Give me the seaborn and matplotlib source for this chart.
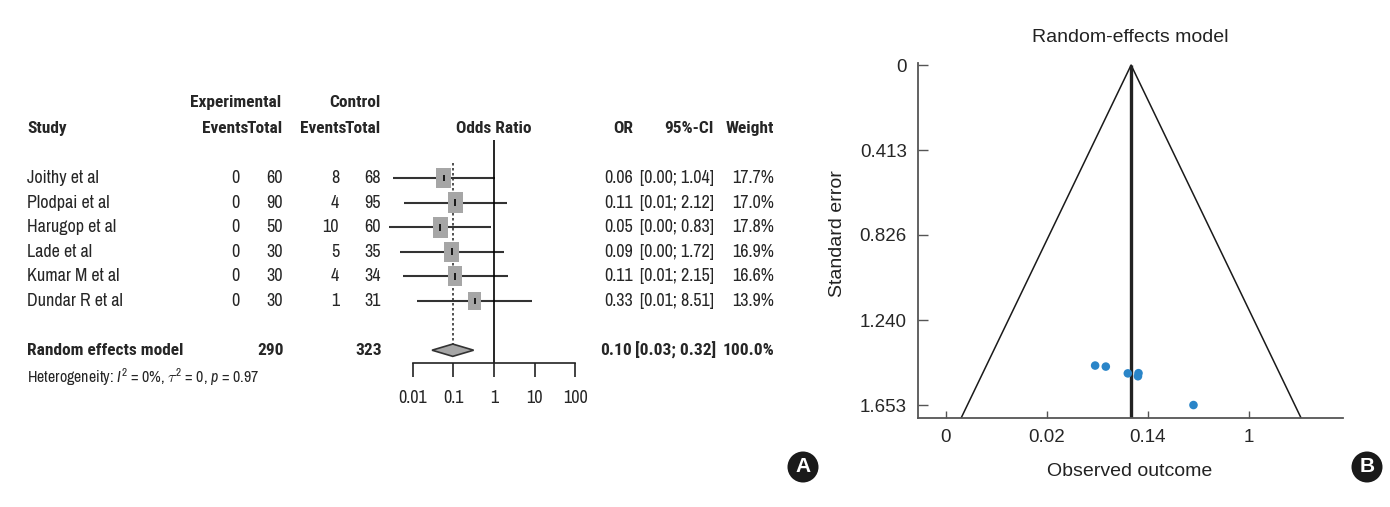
import numpy as np
import pandas as pd
import matplotlib
matplotlib.use("Agg")
import matplotlib.pyplot as plt
import seaborn as sns
from matplotlib.patches import Rectangle, Polygon, Ellipse
from matplotlib.transforms import blended_transform_factory

# Data
studies = ["Joithy et al", "Plodpai et al", "Harugop et al", "Lade et al", "Kumar M et al", "Dundar R et al"]
exp_events = [0, 0, 0, 0, 0, 0]
exp_total = [60, 90, 50, 30, 30, 30]
ctrl_events = [8, 4, 10, 5, 4, 1]
ctrl_total = [68, 95, 60, 35, 34, 31]
odds_ratio = [0.0588, 0.1123, 0.0476, 0.0909, 0.1111, 0.3333]
ci_lower = [0.0033, 0.0060, 0.0027, 0.0048, 0.0057, 0.0131]
ci_upper = [1.04, 2.12, 0.83, 1.72, 2.15, 8.51]
weights = [17.7, 17.0, 17.8, 16.9, 16.6, 13.9]
pooled_or = 0.097
pooled_ci = (0.030, 0.316)
pooled_weight = 100.0
pooled_exp_total = 290
pooled_ctrl_total = 323
or_ticks = [0.01, 0.1, 1, 10, 100]
or_tick_labels = ["0.01", "0.1", "1", "10", "100"]

std_error = [1.466, 1.498, 1.461, 1.499, 1.513, 1.653]
se_ticks = [0, 0.413, 0.826, 1.240, 1.653]
se_tick_labels = ["0", "0.413", "0.826", "1.240", "1.653"]
outcome_ticks = [-6, -4, -2, 0]
outcome_tick_labels = ["0", "0.02", "0.14", "1"]

sns.set_theme(style="ticks")
plt.rcParams["font.family"] = ["Liberation Sans", "DejaVu Sans"]
plt.rcParams["mathtext.fontset"] = "custom"
plt.rcParams["mathtext.it"] = "Archivo Narrow:italic"
plt.rcParams["mathtext.rm"] = "Archivo Narrow"
FOREST_FONT = ["Archivo Narrow", "Liberation Sans"]
BOLD_FONT = ["Roboto Condensed", "Fira Sans Condensed", "Liberation Sans"]
FS = 13
FSB = 12.5

W, H = 1390, 507
fig = plt.figure(figsize=(W / 100, H / 100), dpi=100)
fig.patch.set_facecolor("white")


def fx(px):
    return px / W


def fy(py):
    return 1 - py / H


def row(py):
    return (py - 178) / 24.6


# ---------------- Panel A: forest plot ----------------
axf = fig.add_axes([fx(380), fy(420), (600 - 380) / W, (420 - 90) / H])
axf.set_xscale("log")
axf.set_xlim(10 ** ((380 - 494) / 40.7), 10 ** ((600 - 494) / 40.7))
axf.set_ylim(row(420), row(90))
axf.patch.set_alpha(0)
for s in ["top", "left", "right"]:
    axf.spines[s].set_visible(False)
axf.spines["bottom"].set_position(("data", 7.5))
axf.spines["bottom"].set_bounds(0.01, 100)
axf.spines["bottom"].set_color("#222222")
axf.spines["bottom"].set_linewidth(1.2)
axf.set_xticks(or_ticks)
axf.set_xticklabels(or_tick_labels, family=FOREST_FONT, fontsize=FS)
axf.xaxis.set_minor_locator(matplotlib.ticker.NullLocator())
axf.tick_params(axis="x", direction="out", length=10, width=1.2, color="#222222", pad=10)
axf.set_yticks([])

rows = np.arange(len(studies))
w = np.sqrt(weights)
axf.hlines(rows, ci_lower, ci_upper, color="#333333", lw=1.5, zorder=2)
for r, o, wi in zip(rows, odds_ratio, w):
    hw = 0.0437 * wi
    hh = 0.1 * wi
    axf.add_patch(Rectangle((o / 10 ** hw, r - hh), o * 10 ** hw - o / 10 ** hw, 2 * hh,
                            facecolor="#a6a6a6", edgecolor="none", zorder=3))
axf.vlines(odds_ratio, rows - 0.14, rows + 0.14, color="black", lw=1.2, zorder=4)
axf.vlines(1, -1.55, 7.5, color="black", lw=1.2)
axf.vlines(pooled_or, -0.6, 6.75, color="#333333", lw=1.2, linestyles=(0, (1.5, 1.5)))
axf.add_patch(Polygon([(pooled_ci[0], 7), (pooled_or, 6.75), (pooled_ci[1], 7), (pooled_or, 7.25)],
                      closed=True, facecolor="#a6a6a6", edgecolor="#333333", lw=1.2, zorder=3))

tr = blended_transform_factory(fig.transFigure, axf.transData)
bold = dict(transform=tr, va="center", family=BOLD_FONT, fontsize=FSB, fontweight="bold")
norm = dict(transform=tr, va="center", family=FOREST_FONT, fontsize=FS)

axf.text(fx(281), -3.05, "Experimental", ha="right", **bold)
axf.text(fx(381), -3.05, "Control", ha="right", **bold)
axf.text(fx(27), -2, "Study", ha="left", **bold)
axf.text(fx(248), -2, "Events", ha="right", **bold)
axf.text(fx(283), -2, "Total", ha="right", **bold)
axf.text(fx(346), -2, "Events", ha="right", **bold)
axf.text(fx(381), -2, "Total", ha="right", **bold)
axf.text(1, -2, "Odds Ratio", ha="center", transform=axf.transData, va="center",
         family=BOLD_FONT, fontsize=FSB, fontweight="bold")
axf.text(fx(633), -2, "OR", ha="right", **bold)
axf.text(fx(714), -2, "95%-CI", ha="right", **bold)
axf.text(fx(774), -2, "Weight", ha="right", **bold)

for r in rows:
    axf.text(fx(27), r, studies[r], ha="left", **norm)
    axf.text(fx(239), r, f"{exp_events[r]}", ha="right", **norm)
    axf.text(fx(283), r, f"{exp_total[r]}", ha="right", **norm)
    axf.text(fx(339), r, f"{ctrl_events[r]}", ha="right", **norm)
    axf.text(fx(381), r, f"{ctrl_total[r]}", ha="right", **norm)
    axf.text(fx(633), r, f"{odds_ratio[r]:.2f}", ha="right", **norm)
    axf.text(fx(714), r, f"[{ci_lower[r]:.2f}; {ci_upper[r]:.2f}]", ha="right", **norm)
    axf.text(fx(774), r, f"{weights[r]:.1f}%", ha="right", **norm)

axf.text(fx(27), 7, "Random effects model", ha="left", **bold)
axf.text(fx(284), 7, f"{pooled_exp_total}", ha="right", **bold)
axf.text(fx(382), 7, f"{pooled_ctrl_total}", ha="right", **bold)
axf.text(fx(632), 7, f"{pooled_or:.2f}", ha="right", **bold)
axf.text(fx(716), 7, f"[{pooled_ci[0]:.2f}; {pooled_ci[1]:.2f}]", ha="right", **bold)
axf.text(fx(774), 7, f"{pooled_weight:.1f}%", ha="right", **bold)
axf.text(fx(27), 8.1, r"Heterogeneity: $I^2$ = 0%, $\tau^2$ = 0, $p$ = 0.97", ha="left",
         transform=tr, va="center", family=FOREST_FONT, fontsize=FS - 1.5)

# ---------------- Panel B: funnel plot ----------------
axp = fig.add_axes([fx(918), fy(418), (1343 - 918) / W, (418 - 63) / H])
se_max = 1.716
axp.set_xlim(-6.55, 1.86)
axp.set_ylim(se_max, -0.01)
mu = np.log(pooled_or)
funnel = pd.DataFrame({"x": [mu - 1.96 * se_max, mu, mu + 1.96 * se_max],
                       "y": [se_max, 0, se_max]})
sns.lineplot(data=funnel, x="x", y="y", sort=False, color="#1a1a1a", lw=1.1, ax=axp)
axp.vlines(mu, 0, se_max, color="#222222", lw=2.4)
pts = pd.DataFrame({"log_or": np.log(odds_ratio), "se": std_error})
sns.scatterplot(data=pts, x="log_or", y="se", color="#2a85c8", s=38, edgecolor="none", ax=axp, zorder=5)
sns.despine(ax=axp)
for s in ["left", "bottom"]:
    axp.spines[s].set_color("#555555")
    axp.spines[s].set_linewidth(1.3)
axp.set_xticks(outcome_ticks)
axp.set_xticklabels(outcome_tick_labels)
axp.set_yticks(se_ticks)
axp.set_yticklabels(se_tick_labels)
axp.tick_params(direction="in", length=5, width=1, color="#555555", labelsize=13.5, pad=8)
axp.tick_params(axis="y", length=7)
axp.set_xlabel("")
axp.set_ylabel("")
fig.text(fx(1130), fy(38), "Random-effects model", ha="center", va="center", fontsize=14, color="#222222")
fig.text(fx(1130), fy(472), "Observed outcome", ha="center", va="center", fontsize=14, color="#222222")
fig.text(fx(838), fy(234), "Standard error", ha="center", va="center", rotation=90, fontsize=14, color="#222222")

# panel labels
for lab, cx in [("A", 803), ("B", 1367)]:
    fig.patches.append(Ellipse((fx(cx), fy(467)), 31 / W, 31 / H, transform=fig.transFigure,
                               facecolor="#1a1a1a", edgecolor="none"))
    fig.text(fx(cx), fy(467), lab, ha="center", va="center", color="white",
             fontsize=15, fontweight="bold")

fig.savefig("out.png", dpi=100)
